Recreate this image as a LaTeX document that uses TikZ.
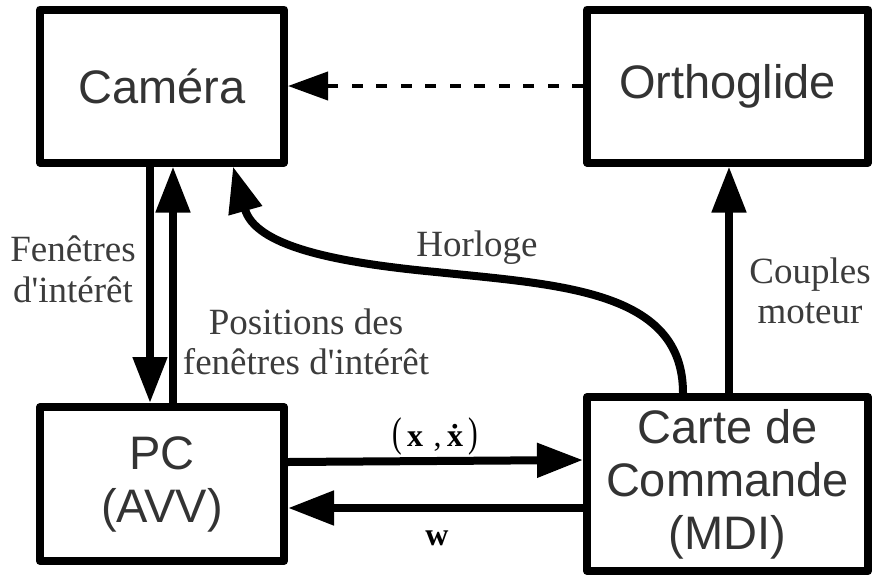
\documentclass[tikz,border=0pt]{standalone}
\usepackage{fontspec}
\setsansfont{Liberation Sans}
\newfontfamily\lblfont{Liberation Serif}
\usetikzlibrary{arrows.meta}
\definecolor{boxtxt}{HTML}{333333}
\definecolor{lbltxt}{HTML}{3C3C3C}
\begin{document}
\begin{tikzpicture}[x=1pt,y=-1pt,
  box/.style={draw=black,line width=8pt,line join=round,inner sep=0pt,
    text=boxtxt,font=\fontsize{47}{53}\selectfont\sffamily,align=center},
  conn/.style={line width=8pt,-{Triangle[length=46pt,width=33pt]}},
  dconn/.style={line width=4pt,dash pattern=on 11pt off 13.5pt,-{Triangle[length=40pt,width=28pt]}},
  lbl/.style={text=lbltxt,font=\fontsize{37}{40.5}\selectfont\lblfont,align=center,inner sep=0pt},
  mlbl/.style={text=black,font=\fontsize{32}{36}\selectfont\lblfont,inner sep=0pt}]
\useasboundingbox (0,0) rectangle (872,576);
\node[box,minimum width=244pt,minimum height=153pt] (cam) at (162,86) {Caméra};
\node[box,minimum width=281pt,minimum height=153pt] (ortho) at (727.5,86) {Orthoglide};
\node[box,minimum width=244pt,minimum height=154pt] (pc) at (162,484) {PC\\(AVV)};
\node[box,minimum width=281pt,minimum height=174pt] (carte) at (727.5,484) {Carte de\\Commande\\(MDI)};
% connectors
\draw[dconn] (ortho.west) -- (cam.east);
\draw[conn] ([xshift=-12pt]cam.south) -- ([xshift=-12pt]pc.north);
\draw[conn] ([xshift=11pt]pc.north) -- ([xshift=11pt]cam.south);
\draw[conn] ([xshift=-44.5pt]carte.north) .. controls +(0,-103) and (560,285) .. (436,272)
  .. controls (330,262) and (255,245) .. ([xshift=71pt]cam.south);
\draw[conn] ([xshift=1.5pt]carte.north) -- ([xshift=1.5pt]ortho.south);
\draw[conn] ([yshift=22pt]pc.east) -- ([yshift=24pt]carte.west);
\draw[conn] ([yshift=-24pt]carte.west) -- ([yshift=-24pt]pc.east);
% labels
\node[lbl] (lfen) at (73,269.5) {Fenêtres\\d'intérêt};
\node[lbl] (lpos) at (306,342) {Positions des\\fenêtres d'intérêt};
\node[lbl,anchor=base] (lhor) at (477,256) {Horloge};
\node[lbl] (lcou) at (810,291) {Couples\\moteur};
\node[mlbl] (lx) at (435,436) {\scalebox{0.9}[1.3]{(}\,\textbf{x}\,\,,\,\textbf{\.{x}}\,\scalebox{0.9}[1.3]{)}};
\node[mlbl] (lw) at (437,538) {\textbf{w}};
\end{tikzpicture}
\end{document}
